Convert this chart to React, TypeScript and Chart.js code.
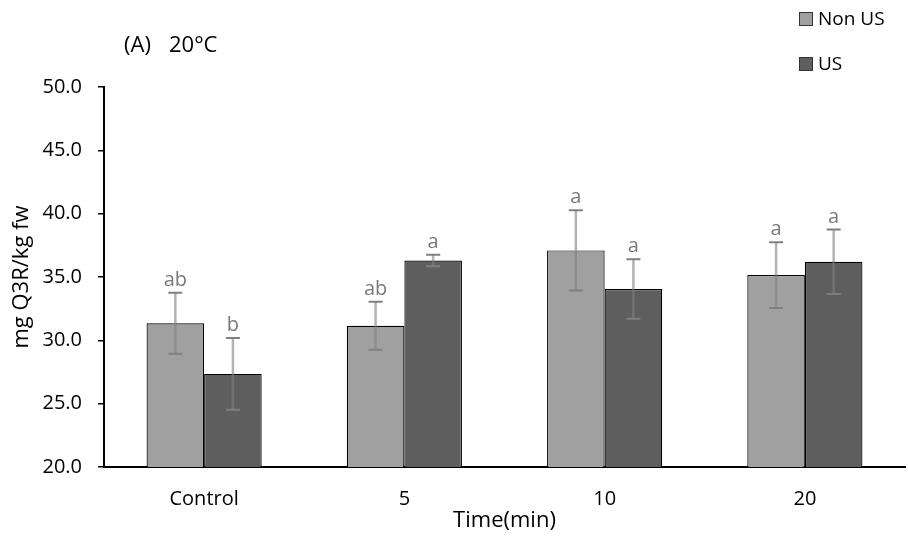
import React, { useEffect, useRef } from "react";
import { Chart, registerables } from "chart.js";

Chart.register(...registerables);

const categories = ["Control", "5", "10", "20"];
const seriesNames = ["Non US", "US"];
const nonUsMeans = [31.35, 31.15, 37.1, 35.15];
const nonUsSd = [2.4, 1.9, 3.17, 2.6];
const usMeans = [27.35, 36.3, 34.05, 36.2];
const usSd = [2.83, 0.45, 2.35, 2.55];
const nonUsLetters = ["ab", "ab", "a", "a"];
const usLetters = ["b", "a", "a", "a"];
const yTicks = [20, 25, 30, 35, 40, 45, 50];
const titleParts = ["(A)", "20°C"];
const xTitle = "Time(min)";
const yTitle = "mg Q3R/kg fw";

const FONT = "'Open Sans', sans-serif";
const COLORS = ["#a0a0a0", "#5e5e5e"];

const errorPlugin = {
  id: "errorBars",
  afterDatasetsDraw(chart: any) {
    const ctx = chart.ctx;
    const y = chart.scales.y;
    const sds = [nonUsSd, usSd];
    const means = [nonUsMeans, usMeans];
    const letters = [nonUsLetters, usLetters];
    ctx.save();
    for (let d = 0; d < 2; d++) {
      const meta = chart.getDatasetMeta(d);
      meta.data.forEach((el: any, i: number) => {
        const x = el.x;
        const top = y.getPixelForValue(means[d][i] + sds[d][i]);
        const bot = y.getPixelForValue(means[d][i] - sds[d][i]);
        ctx.strokeStyle = "rgba(128,128,128,0.6)";
        ctx.lineWidth = 2.5;
        ctx.beginPath();
        ctx.moveTo(x, top);
        ctx.lineTo(x, bot);
        ctx.stroke();
        ctx.strokeStyle = "#7f7f7f";
        ctx.lineWidth = 2;
        ctx.beginPath();
        ctx.moveTo(x - 7, top);
        ctx.lineTo(x + 7, top);
        ctx.moveTo(x - 7, bot);
        ctx.lineTo(x + 7, bot);
        ctx.stroke();
        ctx.fillStyle = "#7a7a7a";
        ctx.font = `20px ${FONT}`;
        ctx.textAlign = "center";
        ctx.textBaseline = "alphabetic";
        ctx.fillText(letters[d][i], x, top - 7);
      });
    }
    ctx.restore();
  },
};

const decorPlugin = {
  id: "decor",
  afterDraw(chart: any) {
    const ctx = chart.ctx;
    ctx.save();
    ctx.fillStyle = "#000";
    ctx.textBaseline = "middle";
    ctx.textAlign = "left";
    ctx.font = `22px ${FONT}`;
    ctx.fillText(titleParts[0], 124, 46);
    ctx.fillText(titleParts[1], 169, 46);
    // legend
    ctx.font = `19px ${FONT}`;
    seriesNames.forEach((name, i) => {
      const cy = 19 + i * 45;
      ctx.fillStyle = COLORS[i];
      ctx.fillRect(799.5, cy - 6.5, 13, 13);
      ctx.strokeStyle = "#333";
      ctx.lineWidth = 1;
      ctx.strokeRect(799.5, cy - 6.5, 13, 13);
      ctx.fillStyle = "#000";
      ctx.fillText(name, 818, cy + 1);
    });
    ctx.restore();
  },
};

export default function App() {
  const ref = useRef<HTMLCanvasElement>(null);
  useEffect(() => {
    if (!ref.current) return;
    const chart = new Chart(ref.current, {
      type: "bar",
      data: {
        labels: categories,
        datasets: [
          {
            label: seriesNames[0],
            data: nonUsMeans,
            backgroundColor: COLORS[0],
            borderColor: "#000",
            borderWidth: 1.2,
            borderSkipped: false,
            categoryPercentage: 0.575,
            barPercentage: 1,
          },
          {
            label: seriesNames[1],
            data: usMeans,
            backgroundColor: COLORS[1],
            borderColor: "#000",
            borderWidth: 1.2,
            borderSkipped: false,
            categoryPercentage: 0.575,
            barPercentage: 1,
          },
        ],
      },
      options: {
        animation: false,
        responsive: false,
        layout: { padding: { left: 0, top: 87, right: 3, bottom: 0 } },
        plugins: {
          legend: { display: false },
          tooltip: { enabled: false },
          title: { display: false },
        },
        scales: {
          x: {
            afterFit(scale: any) {
              scale.height = 69;
            },
            grid: { display: false },
            border: { display: true, color: "#000", width: 2 },
            ticks: {
              color: "#000",
              font: { family: FONT, size: 20 },
              padding: 12,
              maxRotation: 0,
            },
            title: {
              display: true,
              text: xTitle,
              color: "#000",
              font: { family: FONT, size: 22 },
              padding: { top: 0, bottom: 2 },
            },
          },
          y: {
            min: 20,
            max: 50,
            afterFit(scale: any) {
              scale.width = 104;
            },
            afterBuildTicks(scale: any) {
              scale.ticks = yTicks.map((v) => ({ value: v }));
            },
            grid: {
              display: true,
              drawOnChartArea: false,
              drawTicks: true,
              tickLength: 6,
              color: "#000",
              lineWidth: 1.5,
            },
            border: { display: true, color: "#000", width: 2 },
            ticks: {
              color: "#000",
              font: { family: FONT, size: 20 },
              padding: 16,
              callback: (v: any) => Number(v).toFixed(1),
            },
            title: {
              display: true,
              text: yTitle,
              color: "#000",
              font: { family: FONT, size: 22 },
              padding: { top: 9, bottom: 0 },
            },
          },
        },
      },
      plugins: [errorPlugin, decorPlugin],
    });
    return () => chart.destroy();
  }, []);
  return (
    <div style={{ position: "fixed", left: 0, top: 0, width: 908, height: 536, background: "#fff" }}>
      <canvas ref={ref} width={908} height={536} style={{ width: 908, height: 536 }} />
    </div>
  );
}
